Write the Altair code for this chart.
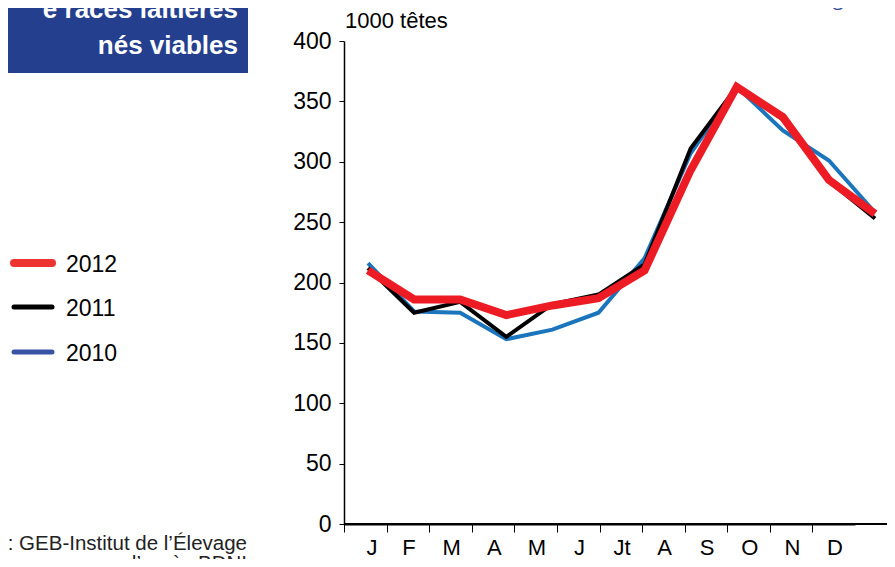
import altair as alt
import pandas as pd

months = ["J", "F", "M", "A", "M", "J", "Jt", "A", "S", "O", "N", "D"]
years = ["2012", "2011", "2010"]
v2012 = [210, 186, 186, 173, 181, 187, 210, 293, 362, 337, 285, 257]
v2011 = [212, 175, 184, 155, 182, 190, 215, 311, 362, 335, 284, 253]
v2010 = [216, 176, 175, 153, 161, 175, 220, 307, 362, 326, 301, 258]
line_colors = {"2012": "#ed1c24", "2011": "#000000", "2010": "#1b75bc"}
legend_colors = {"2012": "#ee3430", "2011": "#000000", "2010": "#3953a4"}
line_widths = {"2012": 8, "2011": 4, "2010": 4}
title_lines = ["e races laitières", "nés viables"]
source_lines = ["Source : GEB-Institut de l\u2019Élevage", "d\u2019après BDNI"]
unit_label = "1000 têtes"
figure_label = "Figure"

series = {"2012": v2012, "2011": v2011, "2010": v2010}
rows = []
for y in years:
    for i, v in enumerate(series[y]):
        rows.append({"idx": i, "month": months[i], "year": y, "value": v})
df = pd.DataFrame(rows)

W, H = 511, 483
SANS = "Liberation Sans, Arial"

yenc = alt.Y("value:Q", scale=alt.Scale(domain=[0, 400], nice=False, zero=True),
             axis=alt.Axis(values=list(range(0, 401, 50)), title=None, grid=False,
                           labelFont=SANS, labelFontSize=23, labelColor="#000",
                           tickSize=5, tickColor="#000", domainColor="#000",
                           domainWidth=1.5, labelPadding=8))

line_layers = []
for y in ["2010", "2011", "2012"]:
    line_layers.append(
        alt.Chart(df).transform_filter(alt.datum.year == y).mark_line(
            color=line_colors[y], strokeWidth=line_widths[y], strokeJoin="miter", clip=False
        ).encode(
            x=alt.X("idx:Q", scale=alt.Scale(domain=[-0.521, 10.566], nice=False, zero=False),
                    axis=None),
            y=yenc,
        )
    )

axis_df = pd.DataFrame({"pos": list(range(12)), "month": months})
label_expr = "[" + ",".join("'" + m + "'" for m in months) + "][datum.value]"
axis_layer = alt.Chart(axis_df).mark_point(opacity=0).encode(
    x=alt.X("pos:Q", scale=alt.Scale(domain=[0, 12], nice=False, zero=False),
            axis=alt.Axis(values=list(range(12)), labelExpr=label_expr, title=None,
                          grid=False, labelFont=SANS, labelFontSize=22,
                          labelColor="#000", labelOffset=22, labelPadding=5,
                          tickSize=8, tickColor="#000", domainColor="#000",
                          domainWidth=2)),
    y=alt.value(H / 2),
)

one = pd.DataFrame({"a": [0]})
ext_rule = alt.Chart(one).mark_rule(color="#000", strokeWidth=2).encode(
    x=alt.value(0), x2=alt.value(543), y=alt.value(H))

title_box = alt.Chart(one).mark_rect(color="#253f8f").encode(
    x=alt.value(-344), x2=alt.value(-96), y=alt.value(-41), y2=alt.value(32))
title_df = pd.DataFrame({"t": title_lines, "yy": [-23, 13]})
title_text = alt.Chart(title_df).mark_text(
    align="right", baseline="alphabetic", font=SANS, fontSize=26, fontWeight="bold",
    color="#ffffff").encode(text="t:N", x=alt.value(-106), y=alt.Y("yy:Q", scale=None))

unit_text = alt.Chart(one).mark_text(
    align="left", baseline="alphabetic", font=SANS, fontSize=22, color="#000",
    text=unit_label).encode(x=alt.value(1), y=alt.value(-13))
fig_text = alt.Chart(one).mark_text(
    align="left", baseline="alphabetic", font="Open Sans", fontSize=22, fontStyle="italic",
    color="#2e4a9e", text=figure_label).encode(x=alt.value(474), y=alt.value(-36))

leg_y = {"2012": 222, "2011": 266, "2010": 311}
legend_layers = []
for y in years:
    legend_layers.append(
        alt.Chart(one).mark_rule(color=legend_colors[y],
                                 strokeWidth=8 if y == "2012" else 5,
                                 strokeCap="round").encode(
            x=alt.value(-330), x2=alt.value(-292), y=alt.value(leg_y[y])))
    legend_layers.append(
        alt.Chart(one).mark_text(align="left", baseline="middle", font=SANS,
                                 fontSize=23, color="#000", text=y).encode(
            x=alt.value(-278), y=alt.value(leg_y[y] + 2)))

src_df = pd.DataFrame({"t": source_lines, "yy": [503, 523]})
src_text = alt.Chart(src_df).mark_text(
    align="right", baseline="middle", font=SANS, fontSize=20.5, color="#222").encode(
    text="t:N", x=alt.value(-97), y=alt.Y("yy:Q", scale=None))

chart = alt.layer(
    axis_layer, *line_layers, ext_rule, title_box, title_text, unit_text, fig_text,
    *legend_layers, src_text
).resolve_scale(x="independent").properties(
    width=W, height=H, background="#ffffff",
    autosize=alt.AutoSizeParams(type="none"),
    padding={"left": 336, "top": 33, "right": 32, "bottom": 35},
).configure_view(strokeWidth=0, stroke="transparent")

chart.save("out.html", embed_options={"renderer": "svg", "actions": False})
